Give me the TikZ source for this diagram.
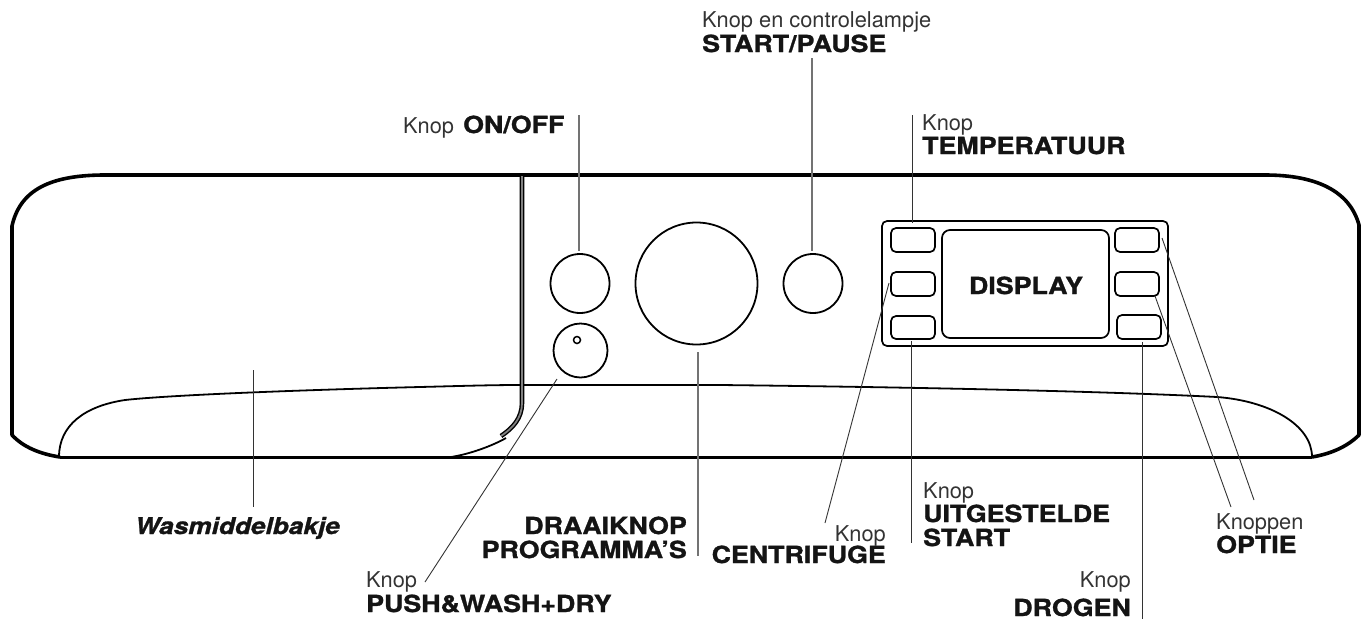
\documentclass[tikz,border=0pt]{standalone}
\usepackage{fontspec}
\setmainfont{TeX Gyre Heros}
\newfontfamily\heavyf[FakeStretch=1.14,BoldFont={TeX Gyre Heros Bold},ItalicFont={TeX Gyre Heros Bold Italic},FakeBold=1.2]{TeX Gyre Heros Bold}
\tikzset{
 heavyl/.style={line width=3.6pt,black},
 baseln/.style={line width=3pt,black},
 outl/.style={line width=1.8pt,black},
 ctl/.style={line width=1.7pt,black,rounded corners=5pt},
 knob/.style={circle,draw,line width=1.8pt,inner sep=0pt},
 leader/.style={line width=0.9pt,black!80},
 gleader/.style={line width=1.3pt,black!55},
 lab/.style={inner sep=0pt,font=\fontsize{21.8}{21.8}\selectfont,text=black!80},
 bl/.style={inner sep=0pt,font=\fontsize{23.5}{23.5}\selectfont\heavyf,text=black!92},
}
\begin{document}
\begin{tikzpicture}[x=1pt,y=-1pt]
\useasboundingbox (0,0) rectangle (1366,619);
% body
\draw[heavyl,line join=round] (60,457) .. controls (40,454) and (23,447) .. (12,435) -- (12,226)
 .. controls (20,190) and (50,175) .. (105,175) -- (1265,175)
 .. controls (1318,175) and (1350,192) .. (1359,225) -- (1359,435)
 .. controls (1347,447) and (1330,454) .. (1312,457);
\draw[baseln] (60,457) -- (1312,457);
\draw[outl] (59,457) .. controls (59,425) and (85,406) .. (125,400)
 .. controls (170,395) and (300,390) .. (420,387)
 .. controls (460,386) and (490,385) .. (520,385) -- (720,385)
 .. controls (900,387) and (1100,391) .. (1217,397)
 .. controls (1270,401) and (1312,425) .. (1312,457);
% drawer
\draw[line width=4.6pt,black] (522,176) -- (522,403) .. controls (522,418) and (513,428) .. (501,436);
\draw[line width=1.8pt,black!50] (522,176) -- (522,403) .. controls (522,418) and (513,428) .. (501,436);
\draw[outl] (451,457) .. controls (470,454) and (492,446) .. (506,438);
% knobs
\node[knob,minimum size=59pt] (onoff) at (580,283.5) {};
\node[knob,minimum size=54pt] (push) at (580.5,350.5) {};
\node[knob,line width=1.5pt,minimum size=7pt] (dot) at (577,340) {};
\node[knob,minimum size=122pt] (prog) at (696.5,283.5) {};
\node[knob,minimum size=59pt] (startk) at (813,283.5) {};
% panel
\draw[ctl] (882,221) rectangle (1168,346);
\draw[ctl] (891,228) rectangle (935,252);
\draw[ctl] (891,272) rectangle (935,296);
\draw[ctl] (891,316) rectangle (935,339);
\draw[ctl,rounded corners=8pt] (942,230) rectangle (1109,338);
\draw[ctl] (1115,228) rectangle (1159,252);
\draw[ctl] (1115,272) rectangle (1159,296);
\draw[ctl] (1117,315) rectangle (1161,339);
\node[bl,anchor=base] (disp) at (1026,294) {DISPLAY};
% labels
\node[lab,anchor=base west] (t1) at (702,27) {Knop en controlelampje};
\node[bl,anchor=base west] (t2) at (702,52) {START/PAUSE};
\node[lab,anchor=base west] (t3) at (403,133) {Knop};
\node[bl,anchor=base west] (t4) at (463,133) {ON/OFF};
\node[lab,anchor=base west] (t5) at (922,130) {Knop};
\node[bl,anchor=base west] (t6) at (922,154) {TEMPERATUUR};
\node[bl,anchor=base east,font=\fontsize{23}{23}\selectfont\heavyf\itshape] (t7) at (340,534) {Wasmiddelbakje};
\node[bl,anchor=base east] (t8) at (687,534) {DRAAIKNOP};
\node[bl,anchor=base east] (t9) at (687,558) {PROGRAMMA’S};
\node[lab,anchor=base east] (t10) at (886,541) {Knop};
\node[bl,anchor=base east] (t11) at (886,563) {CENTRIFUGE};
\node[lab,anchor=base west] (t12) at (923,498) {Knop};
\node[bl,anchor=base west] (t13) at (923,522) {UITGESTELDE};
\node[bl,anchor=base west] (t14) at (923,546) {START};
\node[lab,anchor=base west] (t15) at (1216,529) {Knoppen};
\node[bl,anchor=base west] (t16) at (1216,553) {OPTIE};
\node[lab,anchor=base east] (t17) at (1131,587) {Knop};
\node[bl,anchor=base east] (t18) at (1131,616) {DROGEN};
\node[lab,anchor=base west] (t19) at (366,587) {Knop};
\node[bl,anchor=base west] (t20) at (366,612) {PUSH\&WASH+DRY};
% leaders
\coordinate (a1) at (579,115); \coordinate (a2) at (579,251);
\draw[gleader] (a1) -- (a2);
\coordinate (b1) at (812,58); \coordinate (b2) at (812,251);
\draw[gleader] (b1) -- (b2);
\coordinate (c1) at (912,115); \coordinate (c2) at (912,223);
\draw[leader] (c1) -- (c2);
\coordinate (d1) at (253,370); \coordinate (d2) at (253,507);
\draw[leader] (d1) -- (d2);
\coordinate (e1) at (698,352); \coordinate (e2) at (698,556);
\draw[gleader] (e1) -- (e2);
\coordinate (f1) at (557,379); \coordinate (f2) at (425,582);
\draw[leader] (f1) -- (f2);
\coordinate (g1) at (889,283); \coordinate (g2) at (825,523);
\draw[leader] (g1) -- (g2);
\coordinate (h1) at (911,341); \coordinate (h2) at (911,543);
\draw[leader] (h1) -- (h2);
\coordinate (i1) at (1142,342); \coordinate (i2) at (1142,619);
\draw[leader] (i1) -- (i2);
\coordinate (j1) at (1155,296); \coordinate (j2) at (1231,507);
\draw[leader] (j1) -- (j2);
\coordinate (k1) at (1162,238); \coordinate (k2) at (1254,500);
\draw[leader] (k1) -- (k2);
\end{tikzpicture}
\end{document}
